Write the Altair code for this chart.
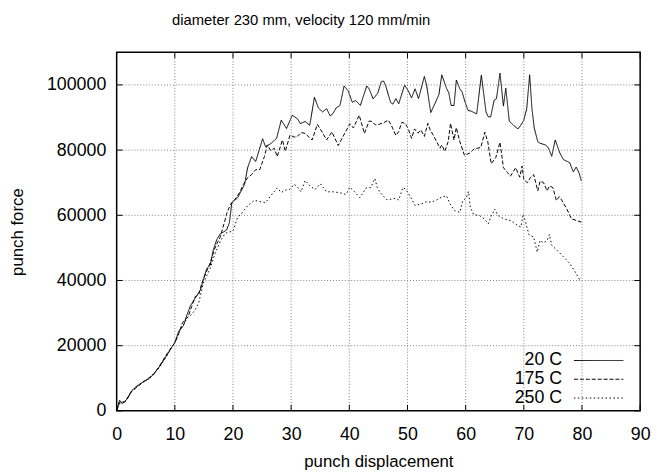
import altair as alt
import pandas as pd

series_names = ["20 C", "175 C", "250 C"]

x_20 = [0, 0.5, 0.8, 1.3, 1.9, 2.5, 3.3, 4.4, 5.6, 6.4, 7.3, 8.4, 9.3, 10.0, 10.7, 11.5, 12.1, 12.7,
        13.5, 14.4, 14.9, 15.5, 16.1, 16.6, 17.2, 17.8, 18.3, 18.9, 19.4, 19.8, 20.8, 22.0, 22.5, 23.2,
        23.9, 25.1, 25.6, 26.5, 27.5, 28.3, 29.2, 30.2, 31.1, 31.6, 32.4, 33.2, 34.0, 34.7, 35.4, 36.1,
        36.7, 37.2, 37.7, 38.4, 39.1, 39.8, 40.5, 41.1, 41.9, 43.0, 43.4, 44.1, 44.9, 45.5, 45.9, 46.3,
        47.1, 47.5, 48.0, 48.5, 49.5, 50.1, 50.7, 51.3, 51.9, 52.9, 53.3, 54.0, 54.7, 55.4, 55.9, 56.7,
        57.1, 57.5, 58.0, 58.4, 59.0, 59.4, 59.8, 60.4, 61.0, 61.9, 62.7, 63.5, 63.9, 64.3, 64.9, 65.3,
        65.9, 66.5, 66.9, 67.5, 68.3, 69.0, 69.5, 70.0, 70.5, 71.0, 71.4, 71.8, 72.4, 72.8, 73.7, 74.2,
        74.8, 75.4, 76.2, 76.8, 77.6, 77.9, 78.5, 79.0, 79.5, 79.9]
f_20 = [0, 3300, 2600, 2800, 3800, 6000, 7400, 8700, 9900, 11400, 13400, 16400, 19000, 21000, 24500,
        26200, 29500, 32300, 34600, 37100, 40200, 43700, 44700, 49300, 52500, 54300, 54800, 55500,
        57800, 63900, 65400, 69500, 74500, 78000, 76500, 83500, 81000, 82000, 83600, 89200, 86600,
        90700, 89600, 88100, 88800, 87600, 96200, 92900, 91700, 92700, 90500, 91200, 92900, 93700,
        99700, 98200, 94700, 95200, 93700, 99700, 98800, 95700, 97500, 101000, 101200, 99500, 94600,
        94100, 95800, 94200, 100000, 98300, 96000, 98800, 95800, 102600, 99800, 91500, 94200, 97000,
        103100, 99000, 97600, 93700, 93700, 101500, 98800, 97800, 95300, 92200, 91900, 91100, 103000,
        91700, 90200, 90200, 95300, 95800, 103600, 93500, 99000, 88900, 87500, 86500, 87700, 89200,
        92700, 103100, 92700, 86700, 82600, 82100, 81600, 80800, 78100, 83100, 79100, 77100, 76400,
        76100, 73300, 74800, 73000, 70500]

x_175 = [0, 0.5, 1.0, 1.5, 2.5, 3.3, 4.4, 5.6, 6.4, 7.3, 8.4, 9.3, 10.0, 10.7, 11.3, 11.8, 12.3, 12.9,
         13.5, 14.1, 14.7, 15.4, 16.1, 16.8, 17.3, 17.8, 18.6, 19.0, 19.6, 20.4, 21.1, 21.8, 22.5, 23.2,
         23.9, 24.6, 25.4, 25.9, 26.5, 27.1, 27.6, 28.5, 29.0, 29.8, 30.5, 31.0, 31.7, 32.4, 33.6, 34.5,
         35.3, 36.1, 37.0, 38.1, 38.9, 40.1, 40.7, 41.7, 42.6, 43.4, 43.9, 44.5, 45.1, 45.9, 46.7, 47.2,
         48.0, 48.5, 49.0, 49.6, 50.1, 50.7, 51.2, 51.8, 52.3, 52.9, 53.5, 53.9, 54.4, 55.0, 55.6, 55.9,
         56.4, 57.0, 57.4, 58.0, 58.4, 59.0, 59.8, 60.7, 61.5, 62.1, 62.6, 63.3, 63.8, 64.4, 65.2, 65.9,
         66.5, 67.2, 67.7, 68.6, 69.3, 69.7, 70.0, 70.6, 71.1, 71.7, 72.4, 72.8, 73.4, 74.0, 74.4, 75.0,
         75.6, 76.1, 76.5, 77.4, 78.2, 79.1, 79.9]
f_175 = [0, 2500, 2300, 3000, 5800, 7000, 8600, 10200, 11200, 13600, 16800, 19200, 20800, 23800, 27000,
         28000, 29000, 32000, 35000, 35600, 39500, 42500, 45500, 49500, 51500, 53300, 58300, 61000,
         63400, 65000, 66900, 69500, 71500, 72500, 74000, 74000, 78000, 81600, 79800, 80600, 78000,
         83100, 79600, 84600, 84000, 84100, 85400, 85100, 83100, 87900, 85600, 83100, 85600, 81400,
         84100, 88100, 86800, 90700, 85100, 88900, 88800, 87700, 87900, 88400, 89200, 87700, 84500,
         85700, 88500, 88200, 86700, 83600, 86500, 85200, 86200, 84200, 88200, 86200, 84700, 82600,
         80600, 81600, 79600, 82600, 88200, 83100, 86900, 82600, 78400, 79100, 80400, 80600, 80800,
         85500, 82600, 75800, 77800, 82400, 74600, 73100, 72000, 74600, 71700, 75100, 71000, 70000,
         71500, 72500, 67500, 70500, 70000, 67500, 69000, 68500, 64500, 65700, 64700, 61900, 58900,
         58400, 57900]

x_250 = [0, 0.5, 1.0, 1.5, 2.5, 3.3, 4.4, 5.6, 6.4, 7.3, 8.4, 9.3, 10.0, 10.7, 11.5, 12.1, 12.9, 13.5,
         14.1, 14.9, 15.5, 16.1, 16.9, 17.9, 18.6, 19.1, 20.0, 20.8, 21.4, 22.5, 23.7, 24.6, 25.6, 26.5,
         27.6, 28.3, 29.0, 29.8, 30.5, 31.0, 31.7, 32.4, 33.3, 34.1, 35.0, 36.1, 37.3, 38.4, 39.4, 40.1,
         40.8, 41.8, 42.9, 43.7, 44.4, 44.8, 45.3, 46.5, 47.3, 48.0, 48.5, 49.2, 49.7, 50.5, 51.3, 52.4,
         53.3, 54.1, 55.0, 55.8, 56.7, 57.3, 58.1, 59.0, 59.5, 60.1, 60.5, 60.8, 61.4, 62.4, 63.2, 63.9,
         64.3, 65.0, 65.6, 66.6, 67.7, 68.9, 69.5, 69.9, 70.3, 70.9, 71.7, 72.3, 72.8, 73.4, 74.0, 74.4,
         74.8, 75.7, 76.8, 77.9, 78.8, 79.6]
f_250 = [0, 2800, 2200, 2800, 5800, 7200, 8800, 10000, 11500, 13200, 16200, 19000, 21000, 24000, 26500,
         28500, 29600, 31000, 33100, 39200, 41500, 43700, 48200, 52300, 54300, 54800, 55100, 59400,
         60400, 62900, 64600, 64200, 63900, 66000, 68400, 67000, 67700, 68000, 69500, 68900, 67200,
         70700, 68900, 67900, 69700, 67200, 67200, 66900, 66400, 68600, 67400, 65400, 68400, 68500,
         71300, 68500, 67000, 64700, 65000, 65200, 64700, 68500, 68000, 65700, 63000, 63500, 64200,
         64000, 64700, 65500, 66000, 63500, 61400, 60900, 64500, 65300, 67300, 62400, 60200, 59900,
         58900, 57400, 59400, 61900, 59900, 58900, 58400, 56900, 56400, 60400, 57900, 54000, 53300,
         48700, 52300, 51500, 52300, 54100, 50800, 49300, 47300, 45200, 42700, 40200]

x_ticks = [0, 10, 20, 30, 40, 50, 60, 70, 80, 90]
y_ticks = [0, 20000, 40000, 60000, 80000, 100000]
x_grid = [10, 20, 30, 40, 50, 60, 70, 80]
y_grid = [20000, 40000, 60000, 80000, 100000]

rows = []
for name, xs, fs in [("20 C", x_20, f_20), ("175 C", x_175, f_175), ("250 C", x_250, f_250)]:
    for a, b in zip(xs, fs):
        rows.append({"series": name, "disp": a, "force": b})
df = pd.DataFrame(rows)

W, H = 530, 363
FONT = "Liberation Sans"
xscale = alt.Scale(domain=[0, 90], nice=False, zero=False)
yscale = alt.Scale(domain=[0, 110000], nice=False)

xg = pd.DataFrame({"disp": x_grid})
yg = pd.DataFrame({"force": y_grid})
xt = pd.DataFrame({"disp": x_ticks})
yt = pd.DataFrame({"force": y_ticks})

x_axis = alt.Axis(values=x_ticks, title="punch displacement", format="d", labelFlush=False,
                  labelPadding=15,
                  titleX=W / 2, titleY=51, titleBaseline="middle", titleAlign="center")
y_axis = alt.Axis(values=y_ticks, title="punch force", format="d", labelFlush=False,
                  labelPadding=11,
                  titleX=-100, titleY=H / 2, titleBaseline="middle", titleAlign="center",
                  titleAngle=-90)
X = alt.X("disp:Q", scale=xscale, axis=x_axis)
Y = alt.Y("force:Q", scale=yscale, axis=y_axis)

lines = alt.Chart(df).mark_line(color="black", strokeWidth=1).encode(
    x=X, y=Y,
    strokeDash=alt.StrokeDash(
        "series:N",
        scale=alt.Scale(domain=series_names, range=[[1, 0], [4, 2], [1.5, 2.5]]),
        legend=alt.Legend(title=None, orient="none", legendX=479, legendY=303,
                          symbolType="M-25,0H25", symbolSize=4, symbolStrokeWidth=1,
                          symbolStrokeColor="black", labelAlign="right",
                          labelOffset={"expr": "-46"},
                          labelFontSize=18, labelFont=FONT, labelColor="black",
                          rowPadding=1, padding=0)),
)

grid_style = dict(color="#808080", strokeWidth=1, strokeDash=[1, 2])
xgrid = alt.Chart(xg).mark_rule(**grid_style).encode(x=X, y=alt.value(0), y2=alt.value(H))
ygrid = alt.Chart(yg).mark_rule(**grid_style).encode(y=Y, x=alt.value(0), x2=alt.value(W))

tick_style = dict(color="black", strokeWidth=1)
xtb = alt.Chart(xt).mark_rule(**tick_style).encode(x=X, y=alt.value(H), y2=alt.value(H - 6))
xtt = alt.Chart(xt).mark_rule(**tick_style).encode(x=X, y=alt.value(0), y2=alt.value(6))
ytl = alt.Chart(yt).mark_rule(**tick_style).encode(y=Y, x=alt.value(0), x2=alt.value(6))
ytr = alt.Chart(yt).mark_rule(**tick_style).encode(y=Y, x=alt.value(W - 6), x2=alt.value(W))

chart = alt.layer(lines, xgrid, ygrid, xtb, xtt, ytl, ytr).properties(
    width=W, height=H,
    autosize=alt.AutoSizeParams(type="none"),
    padding={"left": 110, "top": 42, "right": 12, "bottom": 57},
    title=alt.TitleParams("diameter 230 mm, velocity 120 mm/min", font=FONT, fontSize=15,
                          fontWeight="normal", color="black", anchor="start", dx=56,
                          frame="group", baseline="alphabetic", offset=12),
).configure_view(stroke="black", strokeWidth=1.5).configure_axis(
    grid=False, ticks=False, domain=False, labelFont=FONT, labelFontSize=18, labelColor="black",
    titleFont=FONT, titleFontSize=17, titleFontWeight="normal", titleColor="black",
)

chart.save("out.html", embed_options={"renderer": "svg", "actions": False})
